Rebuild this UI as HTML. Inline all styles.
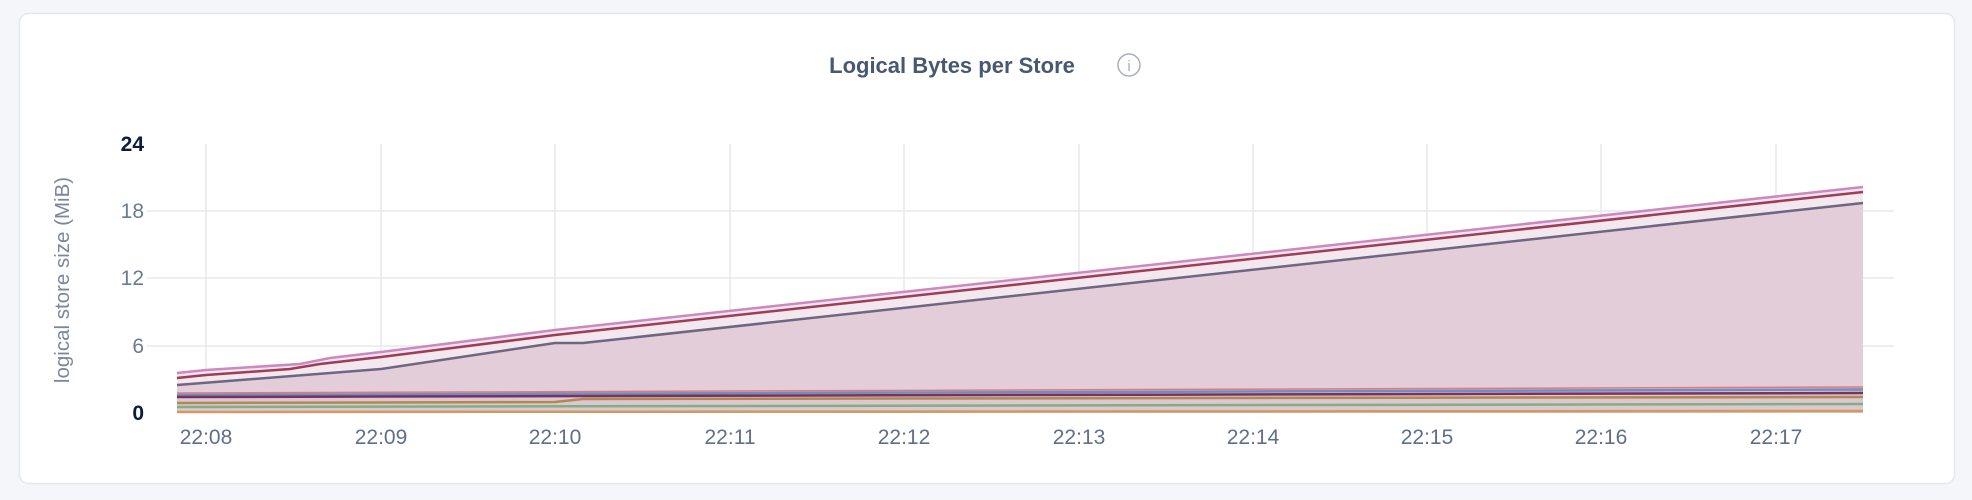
<!DOCTYPE html>
<html><head><meta charset="utf-8"><style>
html,body{margin:0;padding:0;background:#f5f6f9;width:1972px;height:500px;overflow:hidden}
svg{position:absolute;left:0;top:0}
</style></head><body>
<svg width="1972" height="500" xmlns="http://www.w3.org/2000/svg" font-family="Liberation Sans, sans-serif">
<rect x="19.5" y="13.5" width="1935" height="470" rx="9" fill="#fff" stroke="#e5e7eb" stroke-width="1.5"/>
<text x="952" y="73" text-anchor="middle" font-size="22" font-weight="bold" fill="#475872">Logical Bytes per Store</text>
<circle cx="1129" cy="65" r="11" fill="none" stroke="#a8adb8" stroke-width="1.5"/>
<text x="1129" y="71" text-anchor="middle" font-size="15" fill="#a8adb8">i</text>
<g stroke="#e8e8ec" stroke-width="1.5">
<line x1="147" y1="211" x2="1894" y2="211"/><line x1="147" y1="278" x2="1894" y2="278"/><line x1="147" y1="346" x2="1894" y2="346"/>
<line x1="206" y1="144" x2="206" y2="413"/><line x1="381" y1="144" x2="381" y2="413"/><line x1="555" y1="144" x2="555" y2="413"/>
<line x1="730" y1="144" x2="730" y2="413"/><line x1="904" y1="144" x2="904" y2="413"/><line x1="1079" y1="144" x2="1079" y2="413"/>
<line x1="1253" y1="144" x2="1253" y2="413"/><line x1="1427" y1="144" x2="1427" y2="413"/><line x1="1601" y1="144" x2="1601" y2="413"/><line x1="1776" y1="144" x2="1776" y2="413"/>
</g>
<polygon points="177,373 206,370 300,364 330,358 381,352 555,330 1863,187 1863,413 177,413" fill="#f1e4ea" opacity="0.85"/>
<polygon points="177,385 381,369 555,343 583,343 1863,203 1863,413 177,413" fill="#dcc4d2" opacity="0.75"/>
<polygon points="177,393 1863,387 1863,413 177,413" fill="#d8c3cd" opacity="0.6"/>
<g fill="none" stroke-width="2.5">
<polyline points="177,373 206,370 300,364 330,358 381,352 555,330 1863,187" stroke="#cc88c0"/>
<polyline points="177,378 206,375 290,369 320,364 381,357 555,335 1863,192" stroke="#a23a5a"/>
<polyline points="177,385 381,369 555,343 583,343 1863,203" stroke="#6e6682"/>
<polyline points="177,393 1863,387" stroke="#e07a7a" stroke-width="1.5"/>
<polyline points="177,395 1863,389.5" stroke="#6b8fc0"/>
<polyline points="177,397 1863,393" stroke="#7a3060"/>
<polyline points="177,403 555,402 583,399 1863,397" stroke="#b08a50"/>
<polyline points="177,407 1863,404" stroke="#80b080"/>
<polyline points="177,412 1863,411" stroke="#d09a60"/>
</g>
<g font-size="21" text-anchor="end" fill="#6b7a90">
<text x="144" y="151" font-weight="bold" fill="#0d1c3a">24</text>
<text x="144" y="218">18</text><text x="144" y="285">12</text><text x="144" y="353">6</text>
<text x="144" y="420" font-weight="bold" fill="#0d1c3a">0</text>
</g>
<g font-size="21" text-anchor="middle" fill="#5f6f8a">
<text x="206" y="444">22:08</text><text x="381" y="444">22:09</text><text x="555" y="444">22:10</text>
<text x="730" y="444">22:11</text><text x="904" y="444">22:12</text><text x="1079" y="444">22:13</text>
<text x="1253" y="444">22:14</text><text x="1427" y="444">22:15</text><text x="1601" y="444">22:16</text><text x="1776" y="444">22:17</text>
</g>
<text transform="translate(69,280) rotate(-90)" text-anchor="middle" font-size="20.5" fill="#7a879b">logical store size (MiB)</text>
</svg>
</body></html>
